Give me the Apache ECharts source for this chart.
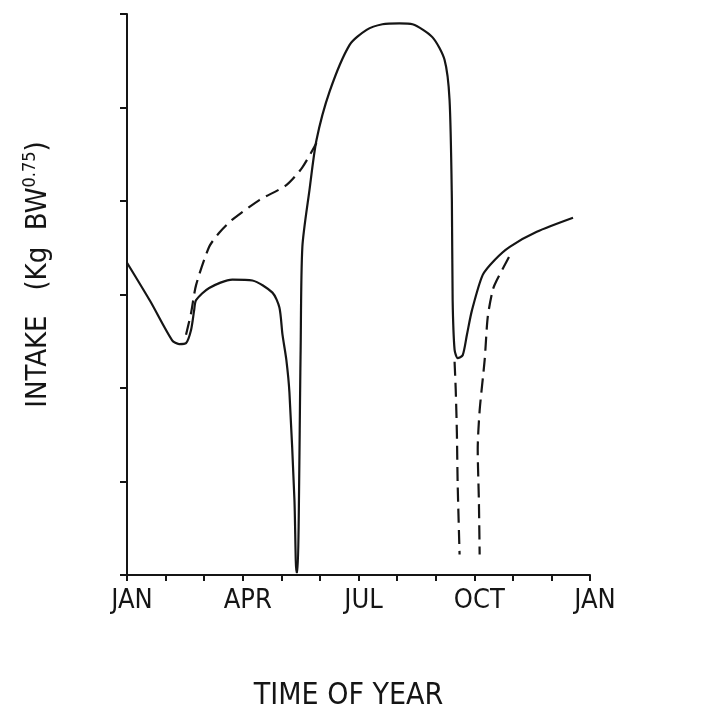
<!DOCTYPE html>
<html>
<head>
<meta charset="utf-8">
<script src="https://cdn.jsdelivr.net/npm/echarts@6/dist/echarts.min.js"></script>
<style>
html,body{margin:0;padding:0;background:#fff;}
#chart{width:713px;height:707px;}
</style>
</head>
<body>
<div id="chart"></div>
<script>
// Month tick labels (every 3 months)
var monthLabels = ['JAN', 'APR', 'JUL', 'OCT', 'JAN'];

// Solid intake curve: [month (0 = JAN), intake (arbitrary units)]
var solidIntake = [
  [0.00, 3.34], [0.60, 2.93], [1.17, 2.51], [1.35, 2.47], [1.53, 2.48],
  [1.66, 2.62], [1.74, 2.83], [1.79, 2.94], [2.13, 3.07], [2.73, 3.16],
  [3.25, 3.15], [3.77, 3.02], [3.95, 2.86], [4.03, 2.57], [4.13, 2.30],
  [4.21, 1.95], [4.34, 0.80], [4.39, 0.03], [4.42, 0.03], [4.50, 2.40],
  [4.545, 3.51], [4.73, 4.12], [4.91, 4.65], [5.25, 5.17], [5.77, 5.67],
  [6.21, 5.83], [6.62, 5.89], [7.06, 5.90], [7.40, 5.89], [7.92, 5.75],
  [8.23, 5.51], [8.36, 5.08], [8.42, 4.01], [8.44, 2.94], [8.49, 2.41],
  [8.57, 2.32], [8.70, 2.35], [8.81, 2.57], [8.94, 2.83], [9.22, 3.21],
  [9.53, 3.37], [9.92, 3.51], [10.62, 3.67], [11.56, 3.82]
];

// Dashed alternative path in late winter / spring
var dashedSpring = [
  [1.53, 2.57], [1.66, 2.80], [1.79, 3.10], [2.13, 3.51], [2.39, 3.66],
  [2.73, 3.80], [3.43, 4.01], [4.13, 4.17], [4.545, 4.36], [4.91, 4.62]
];

// Dashed drops during the rut (autumn)
var dashedRutA = [
  [8.49, 2.28], [8.52, 1.98], [8.55, 1.52], [8.57, 0.98], [8.62, 0.22]
];
var dashedRutB = [
  [9.90, 3.40], [9.58, 3.15], [9.48, 3.05], [9.35, 2.76], [9.27, 2.30],
  [9.14, 1.76], [9.09, 1.34], [9.12, 0.80], [9.14, 0.22]
];

var FONT = "'Liberation Sans Narrow', 'DejaVu Sans Condensed', 'Arial Narrow', sans-serif";
var INK = '#151515';

var chart = echarts.init(document.getElementById('chart'), null, {renderer: 'canvas'});

function lineSeries(data, dashed) {
  return {
    type: 'line',
    data: data,
    showSymbol: false,
    symbol: 'none',
    smooth: 0.25,
    silent: true,
    lineStyle: {
      color: INK,
      width: 2.2,
      type: dashed ? [14, 7] : 'solid'
    },
    z: 3
  };
}

chart.setOption({
  animation: false,
  backgroundColor: '#ffffff',
  grid: {left: 127, right: 123, top: 14, bottom: 132, containLabel: false, outerBoundsMode: 'none'},
  xAxis: {
    type: 'value',
    min: 0,
    max: 12,
    interval: 1,
    name: 'TIME OF YEAR',
    nameLocation: 'middle',
    nameGap: 106,
    nameTextStyle: {fontFamily: FONT, fontSize: 30, lineHeight: 30, color: INK, padding: [0, 20, 0, 0]},
    axisLine: {show: true, onZero: false, lineStyle: {color: INK, width: 2}},
    axisTick: {show: true, inside: false, length: 6, lineStyle: {color: INK, width: 2}},
    axisLabel: {
      show: true,
      margin: 12,
      padding: [0, 0, 0, 10],
      fontFamily: FONT,
      fontSize: 27,
      color: INK,
      formatter: function (v) {
        return (v % 3 === 0) ? monthLabels[v / 3] : '';
      }
    },
    splitLine: {show: false}
  },
  yAxis: {
    type: 'value',
    min: 0,
    max: 6,
    interval: 1,
    name: 'INTAKE   (Kg  BW{sup|0.75})',
    nameLocation: 'middle',
    nameRotate: 90,
    nameGap: 72,
    nameTextStyle: {
      fontFamily: FONT,
      fontSize: 29,
      color: INK,
      padding: [0, 0, 0, 40],
      rich: {
        sup: {fontFamily: FONT, fontSize: 18, color: INK, verticalAlign: 'top', lineHeight: 34}
      }
    },
    axisLine: {show: true, onZero: false, lineStyle: {color: INK, width: 2}},
    axisTick: {show: true, inside: false, length: 7, lineStyle: {color: INK, width: 2}},
    axisLabel: {show: false},
    splitLine: {show: false}
  },
  series: [
    lineSeries(solidIntake, false),
    lineSeries(dashedSpring, true),
    lineSeries(dashedRutA, true),
    lineSeries(dashedRutB, true)
  ]
});
</script>
</body>
</html>
